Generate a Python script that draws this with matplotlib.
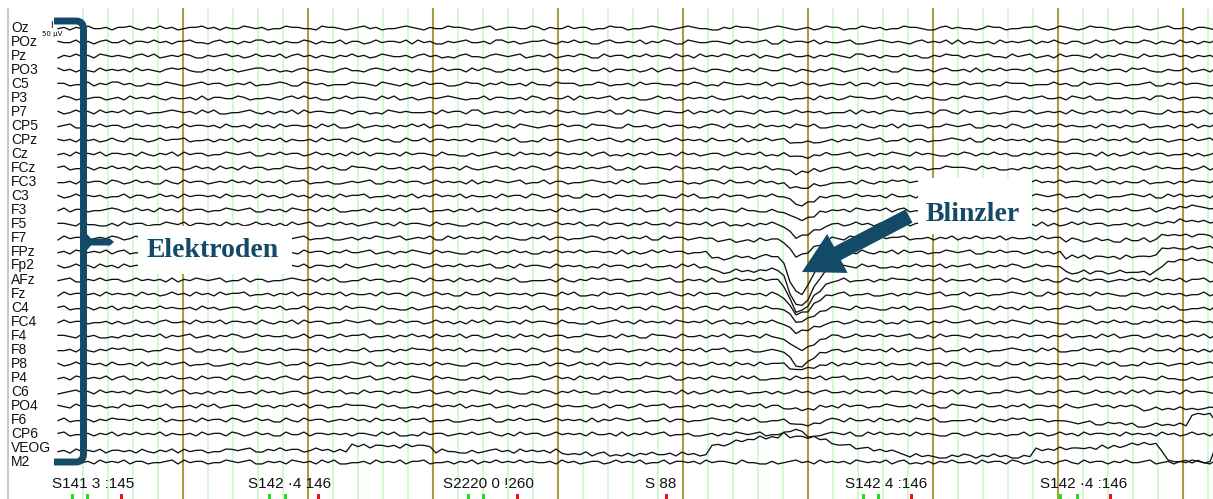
import numpy as np
import matplotlib.pyplot as plt
from matplotlib.patches import Rectangle, FancyArrow, PathPatch, Polygon
from matplotlib.path import Path

# channel montage, top to bottom
channels = ["Oz", "POz", "Pz", "PO3", "C5", "P3", "P7", "CP5", "CPz", "Cz",
            "FCz", "FC3", "C3", "F3", "F5", "F7", "FPz", "Fp2", "AFz", "Fz",
            "C4", "FC4", "F4", "F8", "P8", "P4", "C6", "PO4", "F6", "CP6",
            "VEOG", "M2"]

# background activity, one digit per sample (level 4.5 = baseline)
traces = [
    "5464535546 4435645354 6544354645 5345465534 4556344565 4354655434 5645534456 5436544553 4645535446 5534465543 4565434556 6453445654 3456546534 4655345465 5344566435 4556534465 5443565345 6534456544 3565435546 4456534455",
    "4553646435 5364453546 4435564354 6453354645 5346455364 4653544536 3546645435 5463354654 4356453546 6435545364 5346634554 4563545436 6354453645 5436654345 4564354536 3645546354 5436453564 4653543645 5346456354 6453545436",
    "6453546345 4564353654 5346645435 4653545364 3546456453 5465345546 4354656435 5643454365 4536545346 6354464535 4563546354 5346453645 6435546453 4563354645 5354664534 4645435563 5436546354 4563645345 6354543546 4546353654",
    "3546456354 5463545643 4356645354 6543354656 4354566435 5643453546 4565354463 5346645354 4653546435 5364454653 6435543564 4563546345 5346456453 4654353546 6345546435 5463645354 4536546543 5645354463 4356645536 5463454356",
    "4465536453 3546645534 5654354465 4536554346 6345465553 4456345646 5354466534 4645355463 5563444655 3465546354 4556453465 6345545536 4465354654 5536446354 4645563545 5354465634 4465553546 6354454465 5436645354 4565345563",
    "5346554465 4635453564 5546364455 3465545643 5354664535 4456353654 6545434565 5364455463 4645536354 5436454665 3546645453 5654353546 4465546354 6534455436 4653545664 5345465435 6454355463 4536645545 5463354654 4546535463",
    "4653546354 5364465543 4546353665 5435646453 6354455346 4465634545 5546354463 3654546354 5463454665 4536635345 6445536453 5364456354 4653545465 5536354643 4465546335 6354465654 4536545463 5645354536 4456635454 5365446354",
    "5436645354 4653545465 6354454635 5463546354 4546353665 3654546453 5364465534 4653546345 6545354463 4456635546 5354465643 4635546354 5463453665 4546356453 6354465534 5436645463 4653545354 5546354645 4365546453 6453545364",
    "4546354653 5634465354 4365546453 6453545364 5546354463 4653546635 5364454546 4456353665 6354465453 5435646354 4653545463 5546364535 4365546654 6453454365 5364465543 4536635354 5463545664 4645354536 6354465453 5436546354",
    "5463545364 4546356453 6354465534 5436645354 4653546463 5364454635 4456355664 6543546354 5463454536 4365646453 5546354654 4653545365 6354464535 5436546453 4563545664 5346453546 6453545354 4546364653 5354465546 4653546435",
    "4365546453 5463545364 4653546354 6354465534 5546354663 4456355464 5364454635 6543546453 4653545354 5436646354 4563545465 6354464536 5546353654 4653546453 5364465534 4456354665 6453545364 5436546453 4653545546 5364465354",
    "5546354463 4653546635 6354465453 5463545364 4365546654 5436645354 4653545463 6453454365 5364465543 4546353665 5354465643 4635546354 6463453665 5546356453 4354465534 5436645463 6653545354 4546354645 5365546453 4453545364",
    "4653545465 5364465354 6354454635 4546354653 5463546354 4365546453 6453545364 5546354463 4653546635 5364454546 4456353665 6354465453 5435646354 4653545463 5546364535 4365546654 6453454365 5364465543 4536635354 5463545664",
    "5364465543 4653546354 6354465534 5436645463 4546353665 5463545364 4365546453 6453545354 5546354654 4653545365 5364454635 4456355664 6543546354 5463454536 4365646453 5546354463 4653546435 6354464535 5436546453 4563545664",
    "4456355664 6354465534 5364454635 4653546463 5436645354 6543546354 4563545664 5346453546 4653545365 6354464535 5463454536 4365646453 5546354654 4653546435 5364465546 6453545354 4546364653 5354465546 4653546354 5463545364",
    "6354465453 4653545463 5435646354 5546364535 4365546654 6453454365 4536635354 5463545664 5364465543 4645354536 6354465453 5436546354 4546354653 5634465354 4365546453 6453545364 5546354463 4653546635 5364454546 4456353665",
    "5463454536 4365646453 5546354654 4653545365 6354464535 5436546453 4563545664 5346453546 6453545354 4546364653 5354465546 4653546435 5463545364 4546356453 6354465534 5436645354 4653546463 5364454635 4456355664 6543546354",
    "4653546354 6354465534 5546354663 4456355464 5364454635 6543546453 4653545354 5436646354 4563545465 6354464536 5546353654 4653546453 5364465534 4456354665 6453545364 5436546453 4653545546 5364465354 4365546453 5463545364",
    "5436645354 4653545463 6453454365 5364465543 4546353665 5354465643 4635546354 6463453665 5546356453 4354465534 5436645463 6653545354 4546354645 5365546453 4453545364 5546354463 4653546635 6354465453 5463545364 4365546654",
    "6354454635 4546354653 5463546354 4365546453 6453545364 5546354463 4653546635 5364454546 4456353665 6354465453 5435646354 4653545463 5546364535 4365546654 6453454365 5364465543 4536635354 5463545664 4653545465 5364465354",
    "4365546453 6453545354 5546354654 4653545365 5364454635 4456355664 6543546354 5463454536 4365646453 5546354463 4653546435 6354464535 5436546453 4563545664 5364465543 4653546354 6354465534 5436645463 4546353665 5463545364",
    "5354465546 4653546435 5463545364 4546356453 6354465534 5436645354 4653546463 5364454635 4456355664 6543546354 5463454536 4365646453 5546354654 4653545365 6354464535 5436546453 4563545664 5346453546 6453545354 4546364653",
    "4456354665 6453545364 5436546453 4653545546 5364465354 4365546453 5463545364 4653546354 6354465534 5546354663 4456355464 5364454635 6543546453 4653545354 5436646354 4563545465 6354464536 5546353654 4653546453 5364465534",
    "5546356453 4354465534 5436645463 6653545354 4546354645 5365546453 4453545364 5546354463 4653546635 6354465453 5463545364 4365546654 5436645354 4653545463 6453454365 5364465543 4546353665 5354465643 4635546354 6463453665",
    "4653545463 5546364535 4365546654 6453454365 5364465543 4536635354 5463545664 4653545465 5364465354 6354454635 4546354653 5463546354 4365546453 6453545364 5546354463 4653546635 5364454546 4456353665 6354465453 5435646354",
    "5463454536 4365646453 5546354463 4653546435 6354464535 5436546453 4563545664 5364465543 4653546354 6354465534 5436645463 4546353665 5463545364 4365546453 6453545354 5546354654 4653545365 5364454635 4456355664 6543546354",
    "6543546354 5463454536 4365646453 5546354654 4653545365 6354464535 5436546453 4563545664 5346453546 6453545354 4546364653 5354465546 4653546435 5463545364 4546356453 6354465534 5436645354 4653546463 5364454635 4456355664",
    "4563545465 6354464536 5546353654 4653546453 5364465534 4456354665 6453545364 5436546453 4653545546 5364465354 4365546453 5463545364 4653546354 6354465534 5546354663 4456355464 5364454635 6543546453 4653545354 5436646354",
    "5365546453 4453545364 5546354463 4653546635 6354465453 5463545364 4365546654 5436645354 4653545463 6453454365 5364465543 4546353665 5354465643 4635546354 6463453665 5546356453 4354465534 5436645463 6653545354 4546354645",
    "4365546453 6453545364 5546354463 4653546635 5364454546 4456353665 6354465453 5435646354 4653545463 5546364535 4365546654 6453454365 5364465543 4536635354 5463545664 4653545465 5364465354 6354454635 4546354653 5463546354",
    "5463545364 4546356453 6354465534 5436645354 4653546463 5364454635 4456355664 6543546354 5463454536 4365646453 5546354654 4653545365 6354464535 5436546453 4563545664 5346453546 6453545354 4546364653 5354465546 4653546435",
    "4653546354 5364465543 6354465534 5436645463 4546353665 5463545364 4365546453 6453545354 5546354654 4653545365 5364454635 4456355664 6543546354 5463454536 4365646453 5546354463 4653546435 6354464535 5436546453 4563545664",
]

# slow deflections in uV (positive = down), (channel, first sample, values)
events = [
    ("CPz", 120, [0, 2, 6, 10, 10, 8, 5, 3, 2, 0, 0]),
    ("Cz", 120, [0, 3, 9, 14, 15, 12, 8, 5, 2, 1, 0]),
    ("FCz", 120, [0, 5, 15, 24, 25, 20, 12, 8, 4, 1, 0]),
    ("FC3", 120, [0, 7, 21, 33, 35, 28, 18, 10, 5, 2, 0]),
    ("C3", 120, [0, 8, 24, 38, 40, 32, 20, 12, 6, 2, 0]),
    ("F3", 120, [0, 10, 30, 48, 50, 40, 25, 15, 8, 3, 0]),
    ("F5", 120, [0, 13, 39, 62, 65, 52, 32, 20, 10, 3, 0]),
    ("F7", 109, [10, 15, 15, 15, 12, 12, 12, 10, 10, 10, 8,
                 8, 22, 56, 86, 90, 72, 45, 27, 14, 5, 0]),
    ("FPz", 109, [20, 30, 30, 28, 28, 25, 25, 25, 25, 22, 20,
                  20, 60, 140, 205, 210, 168, 105, 63, 32, 10, 0]),
    ("Fp2", 109, [20, 28, 28, 28, 25, 25, 25, 22, 22, 20, 20,
                  20, 58, 130, 195, 200, 160, 100, 60, 30, 10, 0]),
    ("AFz", 120, [0, 32, 96, 152, 160, 128, 80, 48, 24, 8, 0]),
    ("Fz", 120, [0, 20, 60, 95, 100, 80, 50, 30, 15, 5, 0]),
    ("C4", 120, [0, 13, 39, 62, 65, 52, 32, 20, 10, 3, 0]),
    ("FC4", 120, [0, 10, 30, 48, 50, 40, 25, 15, 8, 3, 0]),
    ("F4", 120, [0, 14, 42, 66, 70, 56, 35, 21, 10, 4, 0]),
    ("F8", 120, [0, 15, 45, 71, 75, 60, 38, 22, 11, 4, 0]),
    ("P8", 120, [0, 5, 15, 24, 25, 20, 12, 8, 4, 1, 0]),
    ("PO4", 120, [0, 4, 12, 19, 20, 16, 10, 6, 3, 1, 0]),
    ("F6", 120, [0, 5, 15, 24, 25, 20, 12, 8, 4, 1, 0]),
    ("CP6", 120, [0, 3, 9, 14, 15, 12, 8, 5, 2, 1, 0]),
    # later shifts on the right
    ("F3", 184, [-5, -10, -15, -15, -14, -15, -15, -16, -15]),
    ("F5", 184, [-5, -10, -15, -16, -15, -15, -14, -15, -15]),
    ("F7", 168, [10, 10, 11, 10, 10, 9, 10, 10, 10, 11, 10, 10, 10, 9, 10, 10]),
    ("F7", 184, [-15, -15, -14, -15, -16, -15, -15, -15, -15]),
    ("FPz", 168, [25, 25, 26, 25, 25, 24, 25, 25, 25, 26, 25, 25, 25, 24]),
    ("FPz", 182, [20, 5, -10, -20, -25, -25, -24, -25, -26, -25, -25]),
    ("Fp2", 168, [30, 30, 31, 30, 30, 29, 30, 30, 30, 31, 30]),
    ("Fp2", 179, [35, 35, 36, 35]),
    ("Fp2", 183, [20, 0, -20, -30, -30, -31, -30, -30, -29, -30]),
    ("F6", 168, [15, 15, 16, 15, 15, 14, 15, 15, 15, 16, 15]),
    ("F6", 179, [25, 25, 26, 25, 25, 24, 25, 25, 25, 26]),
    ("F6", 189, [-20, -30, -30, -30]),
    ("PO4", 179, [5, 10, 15, 15, 15, 16, 15, 15, 14, 15, 15, 15, 16, 15]),
]

# VEOG drift in uV over the whole page
veog_level = [
    15, 15, 16, 15, 14, 15, 15, 16, 15, 15, 14, 15, 15, 15, 16, 15, 15, 14, 15, 15,
    15, 16, 15, 15, 14, 15, 15, 15, 15,
    10, 10, 9, 10, 10, 11, 10, 10, 9, 10, 10, 10, 11, 10, 10, 9, 10, 10, 10, 10,
    -10, -10, -9, -10, -11, -10, -10, -10, -9, -10, -10, -11, -10, -10,
    15, 15, 14, 15, 15, 16, 15, 15, 15, 14, 15, 15, 15, 16, 15, 15, 14, 15, 15, 15, 15,
    30, 30, 31, 30, 29, 30, 30, 30, 31, 30, 30, 29, 30, 30, 30, 31, 30, 30, 29, 30,
    30, 30, 31, 30, 30,
    -10, -15, -20, -25, -30, -35, -40, -45, -50, -55, -60, -60,
    -70, -85, -90, -80, -65,
    -55, -45, -35, -25, -18, -12, -8, -5, -3,
    0, 5, 10, 15, 20, 25, 30, 35, 38, 40,
    40, 40, 41, 40, 39, 40, 40, 40, 41, 40, 40, 39, 40, 40, 40, 41, 40, 40,
    10, 10, 8, 8, 5, 5, 3, 3, 0, 0, -3, -5, -8, -10, -12, -15, -15, -18, -18, -20, -20,
    20, 50, 65, 65, 65, 65, 65, 65, 65,
]

# event markers along the bottom
marker_labels = ["S141 3 :145", "S142 \u00b74 146", "S2220 0 !260", "S 88",
                 "S142 4 :146", "S142 \u00b74 :146"]
marker_pos = [52, 248, 443, 645, 845, 1040]
tick_green = [72, 87, 269, 285, 468, 483, 863, 878, 1060, 1077]
tick_red = [121, 318, 517, 666, 911, 1110]

W, H = 1213, 499
X0, DX = 58, 6          # first sample and sample spacing (px)
ROW0, ROWH = 28, 14     # first channel baseline and row spacing (px)
PX_PER_UV = 0.2
UV_PER_STEP = 6.5
NAVY = "#124a68"

fig = plt.figure(figsize=(W / 100, H / 100), dpi=100)
ax = fig.add_axes([0, 0, 1, 1])
ax.set_xlim(0, W)
ax.set_ylim(H, 0)
ax.axis("off")

# -------- grid --------
grid_x = np.arange(X0 + 25, W, 25)
olive = grid_x[(grid_x - X0) % 125 == 0]
green = grid_x[(grid_x - X0) % 125 != 0]
ax.vlines(green, 8, H, color="#c6f6c6", lw=1.1, zorder=1)
ax.vlines(olive, 8, H, color="#a99e40", lw=1.5, zorder=1)
ax.vlines(7.5, 8, H, color="#c8c8c8", lw=1.5, zorder=1)

# -------- traces --------
offsets = {}
for ch, s in zip(channels, traces):
    d = np.array([int(c) for c in "".join(s.split())], dtype=float)
    offsets[ch] = (d - 4.5) * UV_PER_STEP
for ch, start, vals in events:
    offsets[ch][start:start + len(vals)] += np.array(vals, dtype=float)
offsets["VEOG"][:len(veog_level)] += np.array(veog_level, dtype=float)

for i, ch in enumerate(channels):
    base = ROW0 + ROWH * i
    v = offsets[ch]
    x = X0 + DX * np.arange(len(v))
    ax.plot(x, base + v * PX_PER_UV, color="#111111", lw=0.95, zorder=2)
    ax.text(11, base - 0.5, ch, fontsize=10, family="Liberation Sans",
            va="center", ha="left", color="#111111", zorder=4)

# scale bar
ax.text(51, 25.5, "I", fontsize=6.5, ha="center", va="center", zorder=4)
ax.text(52, 34, "50 \u00b5V", fontsize=5, ha="center", va="center", zorder=4)

# -------- markers --------
for lab, xp in zip(marker_labels, marker_pos):
    ax.text(xp, 484, lab, fontsize=11, family="Liberation Sans",
            ha="left", va="center", color="#111111", zorder=4)
ax.bar(tick_green, 5, width=3, bottom=494, color="#22dd22", zorder=4)
ax.bar(tick_red, 5, width=3, bottom=494, color="#ee1111", zorder=4)

# -------- annotations --------
ax.add_patch(Rectangle((138, 226), 154, 48, fc="white", ec="none", zorder=3))
ax.add_patch(Rectangle((918, 178), 114, 56, fc="white", ec="none", zorder=3))

verts = [(54, 21), (76, 21), (83.5, 21), (83.5, 29), (83.5, 454),
         (83.5, 462), (76, 462), (54, 462)]
codes = [Path.MOVETO, Path.LINETO, Path.CURVE3, Path.CURVE3, Path.LINETO,
         Path.CURVE3, Path.CURVE3, Path.LINETO]
ax.add_patch(PathPatch(Path(verts, codes), fill=False, lw=5, ec=NAVY,
                       capstyle="butt", joinstyle="round", zorder=4))
ax.add_patch(Polygon([(83.5, 230), (91, 238.5), (110, 238.5), (114, 242),
                      (110, 245.5), (91, 245.5), (83.5, 254)],
                     closed=True, fc=NAVY, ec="none", zorder=4))

ax.text(147, 257, "Elektroden", fontsize=20, family="Liberation Serif",
        fontweight="bold", color=NAVY, ha="left", va="baseline", zorder=5)
ax.text(926, 221, "Blinzler", fontsize=20, family="Liberation Serif",
        fontweight="bold", color=NAVY, ha="left", va="baseline", zorder=5)

ax.add_patch(FancyArrow(909, 216, -107, 56, width=15, head_width=44,
                        head_length=40, length_includes_head=True,
                        fc=NAVY, ec="none", zorder=5))

fig.savefig("out.png", dpi=100)
